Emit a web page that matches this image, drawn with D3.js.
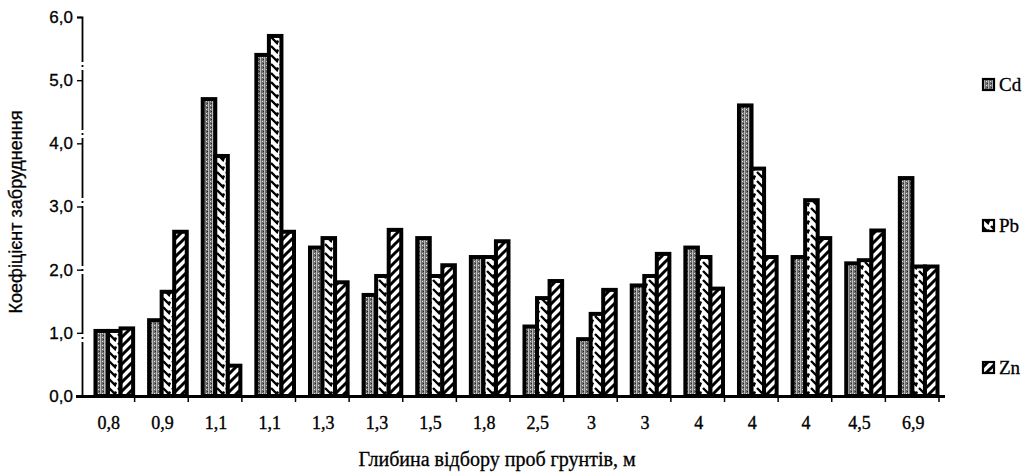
<!DOCTYPE html>
<html><head><meta charset="utf-8">
<script src="https://cdn.jsdelivr.net/npm/d3@7/dist/d3.min.js"></script>
<style>body{margin:0;background:#fff}svg{display:block}</style>
</head><body>
<svg id="c" width="1034" height="472"></svg>
<script>
const depths = ["0,8","0,9","1,1","1,1","1,3","1,3","1,5","1,8","2,5","3","3","4","4","4","4,5","6,9"];
const seriesNames = ["Cd","Pb","Zn"];
const cd = [1.03,1.2,4.7,5.4,2.35,1.6,2.5,2.2,1.1,0.9,1.75,2.35,4.6,2.2,2.1,3.45];
const pb = [1.03,1.65,3.8,5.7,2.5,1.9,1.9,2.2,1.55,1.3,1.9,2.2,3.6,3.1,2.15,2.05];
const zn = [1.07,2.6,0.48,2.6,1.8,2.63,2.07,2.45,1.82,1.68,2.25,1.7,2.2,2.5,2.62,2.05];
const yTicks = [0,1,2,3,4,5,6];
const yTitle = "Коефіцієнт забруднення";
const xTitle = "Глибина відбору проб грунтів, м";

const values = [cd, pb, zn];
const svg = d3.select("#c");
const defs = svg.append("defs");

// patterns
const pCd = defs.append("pattern").attr("id","pat-Cd").attr("patternUnits","userSpaceOnUse").attr("width",4).attr("height",4);
pCd.append("rect").attr("width",4).attr("height",4).attr("fill","#6e6e6e");
pCd.append("rect").attr("x",0).attr("y",0).attr("width",1).attr("height",4).attr("fill","#bdbdbd");
pCd.append("rect").attr("x",2).attr("y",1).attr("width",1).attr("height",1).attr("fill","#e6e6e6");
pCd.append("rect").attr("x",3).attr("y",3).attr("width",1).attr("height",1).attr("fill","#222");

const pPb = defs.append("pattern").attr("id","pat-Pb").attr("patternUnits","userSpaceOnUse").attr("width",9).attr("height",9);
pPb.append("rect").attr("width",9).attr("height",9).attr("fill","#fff");
pPb.append("path").attr("d","M1,1 L7,7 L8,4.5").attr("stroke","#000").attr("stroke-width",2.4).attr("fill","none");

const pZn = defs.append("pattern").attr("id","pat-Zn").attr("patternUnits","userSpaceOnUse").attr("width",9).attr("height",9);
pZn.append("rect").attr("width",9).attr("height",9).attr("fill","#fff");
pZn.append("path").attr("d","M-2,11 L11,-2 M-4,4 L4,-4 M5,13 L13,5").attr("stroke","#000").attr("stroke-width",3);

const x0 = d3.scaleBand().domain(d3.range(depths.length)).range([81, 939]).paddingInner(0).paddingOuter(0);
const bw = x0.bandwidth();
const x1 = d3.scaleBand().domain(seriesNames).range([bw*0.27, bw - 1.5]).padding(0);
const y = d3.scaleLinear().domain([0, 6]).range([396, 17]);

// bars
const g = svg.append("g");
depths.forEach((d, i) => {
  seriesNames.forEach((s, k) => {
    const v = values[k][i];
    g.append("rect")
      .attr("x", x0(i) + x1(s))
      .attr("y", y(v))
      .attr("width", x1.bandwidth())
      .attr("height", y(0) - y(v))
      .attr("fill", `url(#pat-${s})`)
      .attr("stroke", "#000")
      .attr("stroke-width", 4);
  });
});

// y axis
const yAxis = d3.axisLeft(y).tickValues(yTicks).tickSize(5).tickPadding(4)
  .tickFormat(d => d3.format(".1f")(d).replace(".", ","));
const ya = svg.append("g").attr("transform","translate(82,0)").call(yAxis);
ya.select(".domain").attr("stroke","#000").attr("stroke-width",1.8).attr("stroke-dasharray","60,3,2,3");
ya.selectAll(".tick line").attr("stroke","#000").attr("stroke-width",1.4);
ya.selectAll(".tick text").attr("font-family","Liberation Sans, Arial, sans-serif").attr("font-size",17)
  .attr("fill","#000").attr("stroke","#000").attr("stroke-width",0.3);

// x axis line
svg.append("line").attr("x1", 76).attr("x2", 945).attr("y1", y(0)+0.5).attr("y2", y(0)+0.5)
  .attr("stroke","#000").attr("stroke-width",3.2);
// x ticks at band boundaries
const xa = svg.append("g");
d3.range(1, depths.length + 1).forEach(i => {
  const xx = i < depths.length ? x0(i) : x0(depths.length-1) + bw;
  xa.append("line").attr("x1", xx).attr("x2", xx).attr("y1", y(0)).attr("y2", y(0)+6)
    .attr("stroke","#000").attr("stroke-width",1.5);
});
// x labels
xa.selectAll("text.xl").data(depths).enter().append("text")
  .attr("x", (d,i) => x0(i) + bw/2 + 1)
  .attr("y", 429)
  .attr("text-anchor","middle")
  .attr("font-family","Liberation Serif, Times New Roman, serif")
  .attr("font-size",18).attr("stroke","#000").attr("stroke-width",0.35)
  .text(d => d);

// titles
svg.append("text").attr("transform","translate(22,212) rotate(-90)")
  .attr("text-anchor","middle").attr("font-family","Liberation Sans, Arial, sans-serif")
  .attr("font-size",18).attr("stroke","#000").attr("stroke-width",0.3).text(yTitle);
svg.append("text").attr("x", 497).attr("y", 466).attr("text-anchor","middle")
  .attr("font-family","Liberation Serif, Times New Roman, serif").attr("font-size",20)
  .attr("stroke","#000").attr("stroke-width",0.3).text(xTitle);

// legend
const legY = [85, 226, 368];
const lg = svg.append("g");
seriesNames.forEach((s, k) => {
  lg.append("rect").attr("x", 983).attr("y", legY[k]-6).attr("width", 11).attr("height", 11)
    .attr("fill", `url(#pat-${s})`).attr("stroke","#000").attr("stroke-width",2.2);
  lg.append("text").attr("x", 999).attr("y", legY[k]+6)
    .attr("font-family","Liberation Serif, Times New Roman, serif").attr("font-size",19)
    .attr("stroke","#000").attr("stroke-width",0.3).text(s);
});
</script>
</body></html>
